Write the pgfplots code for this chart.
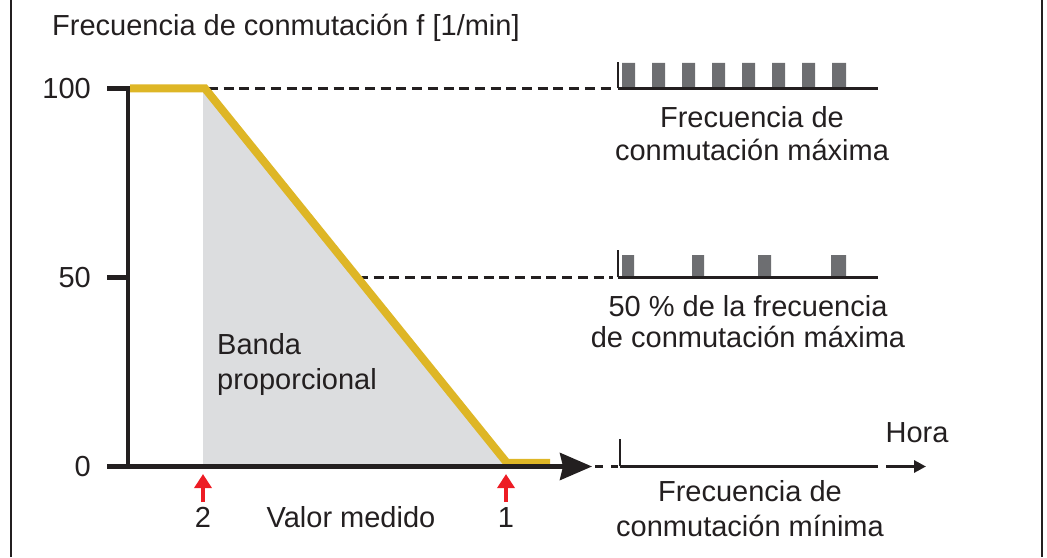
\documentclass[border=0pt]{standalone}
\usepackage{pgfplots}
\pgfplotsset{compat=1.18}
\usepackage{fontspec}
\setmainfont{Liberation Sans}
\usetikzlibrary{arrows.meta}

\definecolor{ink}{RGB}{35,31,32}
\definecolor{gold}{RGB}{222,182,38}
\definecolor{band}{RGB}{220,221,223}
\definecolor{pulse}{RGB}{109,110,113}
\definecolor{pointer}{RGB}{237,28,36}

\tikzset{lbl/.style={font=\fontsize{29}{34}\selectfont, text=ink, inner sep=0pt}}

\begin{document}
\begin{tikzpicture}
\begin{axis}[
    scale only axis,
    width=1047pt, height=557pt,
    xmin=0, xmax=1047,
    ymin=-23.942, ymax=123.413,
    axis lines=none, ticks=none,
    clip=false, no markers,
]
% frame
\addplot[ink, line width=2.5pt] coordinates {(11,-23.942) (11,123.413)};
\addplot[ink, line width=2.5pt] coordinates {(1042,-23.942) (1042,123.413)};

% proportional band
\addplot[fill=band, draw=none] coordinates {(203,100) (205,100) (505,0) (203,0)};

% dashed reference lines
\addplot[ink, line width=2.2pt, dash pattern=on 10pt off 5.7pt] coordinates {(208,100) (613,100)};
\addplot[ink, line width=2.2pt, dash pattern=on 10pt off 5.7pt] coordinates {(358,50) (613,50)};
\addplot[ink, line width=2.2pt, dash pattern=on 8pt off 8pt] coordinates {(595,0) (618,0)};

% controller curve
\addplot[gold, line width=8pt, line join=miter] coordinates {(130,100) (205,100) (507,0.93) (550,0.93)};

% axes
\addplot[ink, line width=4.5pt] coordinates {(107,100) (128,100) (128,0)};
\addplot[ink, line width=4.5pt] coordinates {(107,50) (128,50)};
\addplot[ink, line width=4.5pt, -{Stealth[length=32pt, width=27pt, inset=3pt]}] coordinates {(107,0) (592,0)};

% markers 2 and 1
\addplot[pointer, line width=3.5pt, -{Triangle[length=14pt, width=17pt]}] coordinates {(203,-9.4) (203,-2.0)};
\addplot[pointer, line width=3.5pt, -{Triangle[length=14pt, width=17pt]}] coordinates {(506,-9.4) (506,-2.0)};

% pulse train at maximum frequency
\addplot[fill=pulse, draw=none] coordinates {
 (622,100) (622,106.75) (635,106.75) (635,100)
 (652,100) (652,106.75) (665,106.75) (665,100)
 (682,100) (682,106.75) (695,106.75) (695,100)
 (712,100) (712,106.75) (725,106.75) (725,100)
 (742,100) (742,106.75) (755,106.75) (755,100)
 (772,100) (772,106.75) (785,106.75) (785,100)
 (802,100) (802,106.75) (815,106.75) (815,100)
 (832,100) (832,106.75) (846,106.75) (846,100)};
\addplot[ink, line width=3pt] coordinates {(618,100) (878,100)};
\addplot[ink, line width=2.5pt] coordinates {(618,100) (618,107.0)};

% pulse train at 50 %
\addplot[fill=pulse, draw=none] coordinates {
 (622,50) (622,55.95) (634,55.95) (634,50)
 (692,50) (692,55.95) (704,55.95) (704,50)
 (758,50) (758,55.95) (771,55.95) (771,50)
 (831,50) (831,55.95) (846,55.95) (846,50)};
\addplot[ink, line width=3pt] coordinates {(618,50) (878,50)};
\addplot[ink, line width=2.5pt] coordinates {(618,50) (618,57.3)};

% minimum frequency (no pulses)
\addplot[ink, line width=3pt] coordinates {(620,0) (878,0)};
\addplot[ink, line width=2.5pt] coordinates {(620,0) (620,7.3)};
\addplot[ink, line width=3pt, -{Triangle[length=12pt, width=12pt]}] coordinates {(886,0) (926,0)};

% texts
\node[lbl, anchor=base west] at (axis cs:52,114.15) {Frecuencia de conmutación f [1/min]};
\node[lbl, anchor=east] at (axis cs:91,100) {100};
\node[lbl, anchor=east] at (axis cs:91,50) {50};
\node[lbl, anchor=east] at (axis cs:91,0) {0};

\node[lbl, anchor=base] at (axis cs:752,89.81) {Frecuencia de};
\node[lbl, anchor=base] at (axis cs:752,81.08) {conmutación máxima};
\node[lbl, anchor=base] at (axis cs:748,39.55) {50 \% de la frecuencia};
\node[lbl, anchor=base] at (axis cs:748,31.35) {de conmutación máxima};
\node[lbl, anchor=base] at (axis cs:750,-9.39) {Frecuencia de};
\node[lbl, anchor=base] at (axis cs:750,-18.39) {conmutación mínima};

\node[lbl, anchor=base west] at (axis cs:217,29.5) {Banda};
\node[lbl, anchor=base west] at (axis cs:217,20.5) {proporcional};

\node[lbl, anchor=base] at (axis cs:203,-16.27) {2};
\node[lbl, anchor=base] at (axis cs:351,-16.27) {Valor medido};
\node[lbl, anchor=base] at (axis cs:506,-16.27) {1};
\node[lbl, anchor=base] at (axis cs:917,6.48) {Hora};
\end{axis}
\pgfresetboundingbox
\path[use as bounding box] (current axis.south west) rectangle (current axis.north east);
\end{tikzpicture}
\end{document}
